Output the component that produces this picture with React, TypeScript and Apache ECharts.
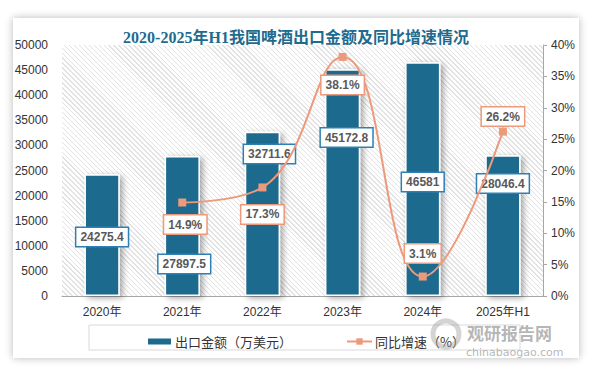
import React, { useEffect, useRef } from "react";
import * as echarts from "echarts";

const categories = ["2020年", "2021年", "2022年", "2023年", "2024年", "2025年H1"];
const exportValues = [24275.4, 27897.5, 32711.6, 45172.8, 46581, 28046.4];
const growthRates: (number | null)[] = [null, 14.9, 17.3, 38.1, 3.1, 26.2];
const leftAxis = { min: 0, max: 50000, interval: 5000 };
const rightAxis = { min: 0, max: 40, interval: 5 };

// label offsets (layout only)
const barLabelOffsets = [[0, 2], [2, 38], [7, -60], [4, -45], [0, 3], [0, -42]];
const lineLabelOffsets = [[0, 0], [3, 22], [0, 27], [0, 28], [0, -23], [0, -15]];

const BAR = "#1d6a8e";
const LINE = "#ec9a7b";

export default function App() {
  const ref = useRef<HTMLDivElement>(null);
  useEffect(() => {
    const chart = echarts.init(ref.current!, undefined, { renderer: "svg" });
    const labelBase = {
      show: true,
      position: "inside",
      backgroundColor: "#fff",
      borderWidth: 1.5,
      padding: [3, 4, 3, 4],
      color: "#595959",
      fontWeight: "bold",
      fontSize: 12,
      fontFamily: "Liberation Sans, Arial, sans-serif",
    };
    chart.setOption({
      animation: false,
      title: {
        text: "2020-2025年H1我国啤酒出口金额及同比增速情况",
        left: "center",
        top: 24,
        textStyle: {
          color: "#1f6b8e",
          fontSize: 16,
          fontWeight: "bold",
          fontFamily: "Liberation Serif, Noto Sans CJK SC, serif",
        },
      },
      grid: { left: 62, right: 49, top: 45, bottom: 73 },
      legend: {
        left: 141,
        top: 330,
        itemGap: 54,
        itemWidth: 25,
        itemHeight: 8,
        textStyle: { fontSize: 13, color: "#333", fontFamily: "Noto Sans CJK SC, sans-serif", padding: [0, 0, 0, -2] },
        data: [
          { name: "出口金额（万美元）", icon: "rect" },
          { name: "同比增速（%）" },
        ],
      },
      xAxis: {
        type: "category",
        data: categories,
        axisLine: { lineStyle: { color: "#a6a6a6" } },
        axisTick: { show: false },
        axisLabel: { color: "#333", fontSize: 12, margin: 10, fontFamily: "Liberation Sans, Noto Sans CJK SC, sans-serif" },
      },
      yAxis: [
        {
          type: "value",
          ...leftAxis,
          splitLine: { show: false },
          axisLine: { show: false },
          axisTick: { show: false },
          axisLabel: {
            color: "#333",
            fontSize: 12,
            margin: 14,
            formatter: (v: number) => String(v),
            fontFamily: "Liberation Sans, sans-serif",
          },
        },
        {
          type: "value",
          ...rightAxis,
          splitLine: { show: false },
          axisLine: { show: true, lineStyle: { color: "#a6a6a6" } },
          axisTick: { show: true, length: 4, lineStyle: { color: "#a6a6a6" } },
          axisLabel: { color: "#333", fontSize: 12, margin: 8, formatter: "{value}%", fontFamily: "Liberation Sans, sans-serif" },
        },
      ],
      series: [
        {
          name: "出口金额（万美元）",
          type: "bar",
          barWidth: "44%",
          itemStyle: {
            color: BAR,
            borderColor: "#fff",
            borderWidth: 1.5,
            shadowBlur: 6,
            shadowColor: "rgba(0,0,0,0.35)",
            shadowOffsetX: 3,
            shadowOffsetY: 2,
          },
          data: exportValues.map((v, i) => ({
            value: v,
            label: { ...labelBase, borderColor: "#2e7fb3", offset: barLabelOffsets[i] },
          })),
        },
        {
          name: "同比增速（%）",
          type: "line",
          yAxisIndex: 1,
          smooth: 0.45,
          symbol: "rect",
          symbolSize: 8,
          lineStyle: { color: LINE, width: 2 },
          itemStyle: { color: LINE },
          z: 5,
          data: growthRates.map((v, i) =>
            v == null
              ? null
              : {
                  value: v,
                  label: {
                    ...labelBase,
                    borderColor: LINE,
                    offset: lineLabelOffsets[i],
                    formatter: (p: any) => `${p.value}%`,
                  },
                }
          ),
        },
      ],
      graphic: [
        {
          type: "rect",
          shape: { x: 89, y: 325, width: 431, height: 25 },
          style: { fill: "none", stroke: "#d9d9d9", lineWidth: 1 },
          z: -1,
        },
        {
          type: "circle",
          shape: { cx: 446, cy: 334, r: 13 },
          style: { fill: "none", stroke: "rgba(160,160,160,0.45)", lineWidth: 5 },
          z: 100,
        },
        {
          type: "text",
          x: 467,
          y: 324,
          style: {
            text: "观研报告网",
            fill: "rgba(150,150,150,0.7)",
            fontSize: 17,
            lineHeight: 17,
            verticalAlign: "top",
            fontWeight: "bold",
            fontFamily: "Noto Sans CJK SC, sans-serif",
          },
          z: 100,
        },
        {
          type: "text",
          x: 466,
          y: 347,
          style: {
            text: "chinabaogao.com",
            fill: "rgba(150,150,150,0.7)",
            fontSize: 11,
            lineHeight: 11,
            verticalAlign: "top",
            fontFamily: "DejaVu Sans, sans-serif",
          },
          z: 100,
        },
      ],
    });
    return () => chart.dispose();
  }, []);

  return (
    <div style={{ position: "fixed", left: 0, top: 0, width: 592, height: 369, background: "#fff", overflow: "hidden" }}>
      <div
        style={{
          position: "absolute",
          left: 13,
          top: 18,
          width: 566,
          height: 340,
          background: "#fff",
          boxShadow: "0 0 8px rgba(0,0,0,0.28)",
        }}
      />
      <div
        style={{
          position: "absolute",
          left: 62,
          top: 45,
          width: 481,
          height: 251,
          backgroundImage: "repeating-linear-gradient(45deg, #e2e2e2 0px, #e2e2e2 1px, #ffffff 1px, #ffffff 3.5px)",
        }}
      />
      <div ref={ref} style={{ position: "absolute", left: 0, top: 0, width: 592, height: 369 }} />
    </div>
  );
}
